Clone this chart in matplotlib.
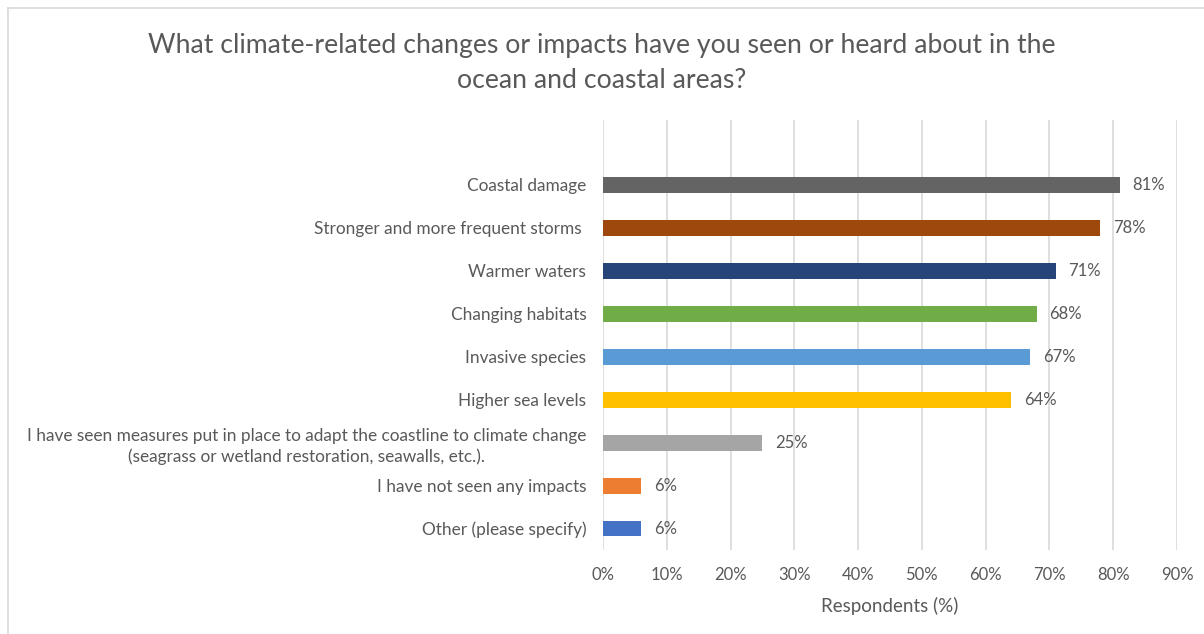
import matplotlib
matplotlib.use("Agg")
import matplotlib.pyplot as plt
from matplotlib.lines import Line2D

categories = [
    "Coastal damage",
    "Stronger and more frequent storms ",
    "Warmer waters",
    "Changing habitats",
    "Invasive species",
    "Higher sea levels",
    "I have seen measures put in place to adapt the coastline to climate change\n(seagrass or wetland restoration, seawalls, etc.).",
    "I have not seen any impacts",
    "Other (please specify)",
]
values = [81, 78, 71, 68, 67, 64, 25, 6, 6]
colors = ["#646464", "#9E480E", "#264478", "#70AD47", "#5B9BD5",
          "#FFC000", "#A5A5A5", "#ED7D31", "#4472C4"]
xticks = [0, 10, 20, 30, 40, 50, 60, 70, 80, 90]

title = "What climate-related changes or impacts have you seen or heard about in the\nocean and coastal areas?"
text_color = "#595959"

plt.rcParams["font.family"] = ["Lato", "DejaVu Sans"]

fig = plt.figure(figsize=(12.04, 6.34), dpi=100)
ax = fig.add_axes([0.5008, 0.1325, 0.4768, 0.6775])

# top row first: reverse positions so the first category sits at the top
pos = list(range(len(categories)))[::-1]
ax.barh(pos, values, height=0.37, color=colors, zorder=3)

for p, v in zip(pos, values):
    ax.text(v + 2.0, p, "{}%".format(v), va="center", ha="left",
            fontsize=12, color=text_color)

ax.set_xlim(0, 90)
ax.set_ylim(-0.5, len(categories) + 0.5)
ax.set_xticks(xticks)
ax.set_xticklabels(["{}%".format(t) for t in xticks], fontsize=12, color=text_color)
ax.set_yticks(pos)
ax.set_yticklabels(categories, fontsize=12.4, color=text_color,
                   multialignment="center", linespacing=1.35)
ax.tick_params(axis="both", length=0)
ax.tick_params(axis="x", pad=12)
ax.tick_params(axis="y", pad=12)

ax.grid(axis="x", color="#D9D9D9", linewidth=1.2, zorder=0)
for s in ax.spines.values():
    s.set_visible(False)

ax.set_xlabel("Respondents (%)", fontsize=13.5, color=text_color, labelpad=10)

fig.text(0.5, 0.9, title, ha="center", va="center", fontsize=19.2,
         color=text_color, linespacing=1.5)

# light frame around the chart area
fig.add_artist(Line2D([8 / 1204, 8 / 1204], [0, 1 - 8 / 634], color="#D9D9D9", linewidth=1.2))
fig.add_artist(Line2D([8 / 1204, 1], [1 - 8 / 634, 1 - 8 / 634], color="#D9D9D9", linewidth=1.2))

fig.savefig("out.png", dpi=100, facecolor="white")
